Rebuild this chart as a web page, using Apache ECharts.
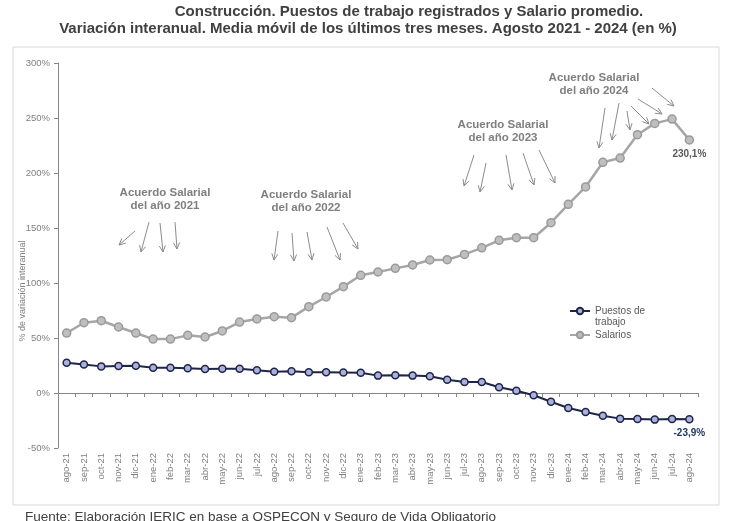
<!DOCTYPE html>
<html>
<head>
<meta charset="utf-8">
<script src="https://cdn.jsdelivr.net/npm/echarts@6/dist/echarts.min.js"></script>
<style>
html,body{margin:0;padding:0;background:#fff;}
#chart{width:730px;height:521px;}
</style>
</head>
<body>
<div id="chart"></div>
<script>
const categories = ['ago-21','sep-21','oct-21','nov-21','dic-21','ene-22','feb-22','mar-22','abr-22','may-22','jun-22','jul-22','ago-22','sep-22','oct-22','nov-22','dic-22','ene-23','feb-23','mar-23','abr-23','may-23','jun-23','jul-23','ago-23','sep-23','oct-23','nov-23','dic-23','ene-24','feb-24','mar-24','abr-24','may-24','jun-24','jul-24','ago-24'];
const puestos = [27.5,26,24.2,24.5,24.8,23,23,22.4,21.8,22.1,22.1,20.6,19.4,19.7,18.8,18.8,18.6,18.4,15.8,16.1,15.8,15.2,12,10,10,5.2,2,-2,-7.9,-13.6,-17.3,-20.6,-23.3,-23.6,-24.2,-23.6,-23.9];
const salarios = [54.5,63.9,65.7,60,54.5,49,49,52.4,50.9,56.4,64.5,67.3,69.4,68.5,78.5,87.3,96.7,107,110,113.3,116.4,120.9,121.2,126,132,138.8,141.2,141.2,154.8,171.5,187.3,209.7,213.6,234.8,245.1,249,230.1];
const yTicks = [-50,0,50,100,150,200,250,300];

const FONT = '"Liberation Sans", Arial, sans-serif';
const fmtPct = v => v.toFixed(1).replace('.', ',') + '%';

function withLastLabel(arr, color) {
  return arr.map((v, i) => i === arr.length - 1 ? {
    value: v,
    label: { show: true, position: 'bottom', distance: 5, formatter: fmtPct(v),
      color: color, fontWeight: 'bold', fontSize: 10, fontFamily: FONT }
  } : v);
}

const ARROW = '#8c8c8c';
function arrow(x1, y1, x2, y2) {
  const a = Math.atan2(y2 - y1, x2 - x1), L = 7, s = 0.45;
  return [
    { type: 'line', shape: { x1, y1, x2, y2 }, style: { stroke: ARROW, lineWidth: 1 } },
    { type: 'polyline', shape: { points: [
      [x2 - L * Math.cos(a - s), y2 - L * Math.sin(a - s)], [x2, y2],
      [x2 - L * Math.cos(a + s), y2 - L * Math.sin(a + s)]] },
      style: { stroke: ARROW, lineWidth: 1, fill: null } }
  ];
}
const arrows = [
  [135,231,119,245],[149,222,141,252],[160,223,163,252],[175,222,177,249],
  [278,231,274,260],[292,233,294,261],[307,232,312,260],[327,227,340,260],[343,223,358,249],
  [474,155,464,186],[486,163,480,192],[506,155,512,190],[523,153,534,185],[539,150,555,183],
  [605,108,599,148],[619,103,612,140],[627,111,630,130],[631,106,649,124],[638,99,662,114],[652,88,674,106]
];
const notes = [
  { x: 165, y: 193, year: '2021' },
  { x: 306, y: 195, year: '2022' },
  { x: 503, y: 125, year: '2023' },
  { x: 594, y: 78, year: '2024' }
];

const graphics = [
  { type: 'rect', z: -1, shape: { x: 13, y: 47, width: 706, height: 458 },
    style: { fill: '#fff', stroke: '#d9d9d9', lineWidth: 1 } },
  { type: 'text', style: { text: 'Construcción. Puestos de trabajo registrados y Salario promedio.',
    x: 409, y: 12, align: 'center', verticalAlign: 'middle', fill: '#404040', font: 'bold 15px ' + FONT } },
  { type: 'text', style: { text: 'Variación interanual. Media móvil de los últimos tres meses. Agosto 2021 - 2024 (en %)',
    x: 368, y: 29, align: 'center', verticalAlign: 'middle', fill: '#404040', font: 'bold 15px ' + FONT } },
  { type: 'text', x: 23, y: 291, rotation: Math.PI / 2, style: { text: '% de variación interanual',
    x: 0, y: 0, align: 'center', verticalAlign: 'middle', fill: '#808080', font: '9px ' + FONT } },
  { type: 'text', style: { text: 'trabajo', x: 595, y: 322, align: 'left', verticalAlign: 'middle',
    fill: '#595959', font: '10px ' + FONT } },
  { type: 'text', style: { text: 'Fuente: Elaboración IERIC en base a OSPECON y Seguro de Vida Obligatorio',
    x: 25, y: 517, align: 'left', verticalAlign: 'middle', fill: '#404040', font: '13.5px ' + FONT } }
];
notes.forEach(n => {
  graphics.push({ type: 'text', style: { text: 'Acuerdo Salarial', x: n.x, y: n.y, align: 'center',
    verticalAlign: 'middle', fill: '#7f7f7f', font: 'bold 11.5px ' + FONT } });
  graphics.push({ type: 'text', style: { text: 'del año ' + n.year, x: n.x, y: n.y + 13, align: 'center',
    verticalAlign: 'middle', fill: '#7f7f7f', font: 'bold 11.5px ' + FONT } });
});
arrows.forEach(a => arrow(...a).forEach(g => graphics.push(g)));

const chart = echarts.init(document.getElementById('chart'), null, { renderer: 'canvas' });
chart.setOption({
  animation: false,
  backgroundColor: '#fff',
  textStyle: { fontFamily: FONT },
  grid: { left: 58, right: 32, top: 63, bottom: 73 },
  legend: {
    orient: 'vertical', left: 564, top: 301, itemWidth: 20, itemHeight: 8, itemGap: 14,
    data: ['Puestos de trabajo', 'Salarios'],
    formatter: n => n === 'Puestos de trabajo' ? 'Puestos de' : n,
    textStyle: { color: '#595959', fontSize: 10, fontFamily: FONT }
  },
  xAxis: [
    { type: 'category', data: categories, boundaryGap: true,
      axisLine: { onZero: true, lineStyle: { color: '#868686', width: 1 } },
      axisTick: { show: true, interval: 0, length: 4, lineStyle: { color: '#868686' } },
      axisLabel: { show: false, interval: 0 }, splitLine: { show: false } },
    { type: 'category', data: categories, position: 'bottom', boundaryGap: true,
      axisLine: { show: false, onZero: false }, axisTick: { show: false },
      axisLabel: { show: true, rotate: 90, interval: 0, margin: 5, color: '#7f7f7f', fontSize: 9.5, fontFamily: FONT },
      splitLine: { show: false } }
  ],
  yAxis: {
    type: 'value', min: yTicks[0], max: yTicks[yTicks.length - 1], interval: 50,
    axisLine: { show: true, lineStyle: { color: '#868686' } },
    axisTick: { show: true, length: 4, lineStyle: { color: '#868686' } },
    axisLabel: { formatter: '{value}%', color: '#7f7f7f', fontSize: 9.5, margin: 8, fontFamily: FONT },
    splitLine: { show: false }
  },
  series: [
    { name: 'Puestos de trabajo', type: 'line', xAxisIndex: 0, data: withLastLabel(puestos, '#1f3864'),
      symbol: 'circle', symbolSize: 7, z: 3,
      lineStyle: { color: '#1f2547', width: 2 },
      itemStyle: { color: '#a9b1dc', borderColor: '#1f2547', borderWidth: 1.5 } },
    { name: 'Salarios', type: 'line', xAxisIndex: 0, data: withLastLabel(salarios, '#595959'),
      symbol: 'circle', symbolSize: 8, z: 2,
      lineStyle: { color: '#a6a6a6', width: 2.5 },
      itemStyle: { color: '#bfbfbf', borderColor: '#9a9a9a', borderWidth: 1.5 } }
  ],
  graphic: graphics
});
</script>
</body>
</html>
